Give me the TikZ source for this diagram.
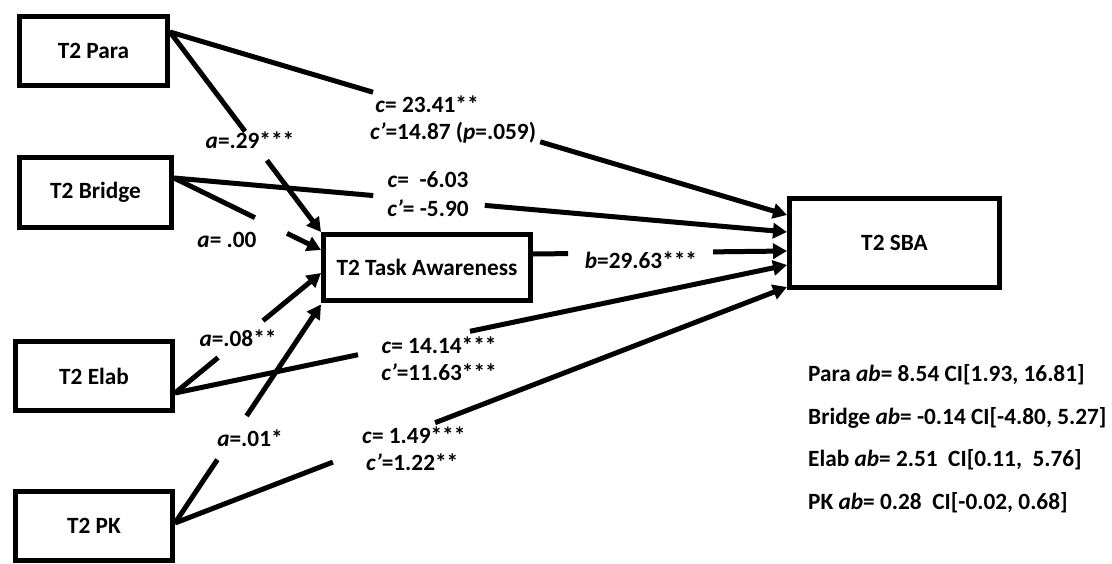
\documentclass[tikz,border=0pt]{standalone}
\usepackage{fontspec}
\setmainfont{Carlito}
\usetikzlibrary{calc,arrows.meta}
\begin{document}
\begin{tikzpicture}[x=1pt,y=-1pt,
  every node/.style={font=\fontsize{23.3}{28}\selectfont\bfseries,inner sep=0pt},
  box/.style={draw,line width=5pt},
  link/.style={line width=5pt,-{Triangle[length=14pt,width=15pt]}}]
\useasboundingbox (0,0) rectangle (1112,563);

% variables and outcome
\node[box,minimum width=148pt,minimum height=69pt] (para)   at (93.5,51)    {T2 Para};
\node[box,minimum width=152pt,minimum height=70pt] (bridge) at (95.5,192.5) {T2 Bridge};
\node[box,minimum width=157pt,minimum height=69pt] (elab)   at (94,376)     {T2 Elab};
\node[box,minimum width=157pt,minimum height=69pt] (pk)     at (94,526)     {T2 PK};
\node[box,minimum width=207pt,minimum height=66pt] (task)   at (427,267.5)  {T2 Task Awareness};
\node[box,minimum width=210pt,minimum height=89pt] (sba)    at (894.5,243)  {T2 SBA};

% connector end points on the box borders
\coordinate (p0) at ([yshift=19pt]para.east);
\coordinate (b0) at ([yshift=14.5pt]bridge.east);
\coordinate (e0) at ([yshift=-17pt]elab.east);
\coordinate (k0) at ([yshift=3pt]pk.east);
\coordinate (t0) at ([yshift=13.5pt]task.east);
\coordinate (t1) at (task.north west);
\coordinate (t2) at ([yshift=17.5pt]task.west);
\coordinate (t3) at ([yshift=-5.5pt]task.west);
\coordinate (t4) at ([yshift=-37pt]task.west);
\coordinate (s1) at ([yshift=28pt]sba.west);
\coordinate (s2) at ([yshift=11pt]sba.west);
\coordinate (s3) at ([yshift=-8pt]sba.west);
\coordinate (s4) at ([yshift=-22pt]sba.west);
\coordinate (s5) at ([yshift=-44pt]sba.west);

% paths, each broken where its coefficients are printed
\draw[link] (p0) -- ($(p0)!0.329!(s1)$) ($(p0)!0.600!(s1)$) -- (s1);
\draw[link] (p0) -- ($(p0)!0.497!(t1)$) ($(p0)!0.642!(t1)$) -- (t1);
\draw[link] (b0) -- ($(b0)!0.325!(s2)$) ($(b0)!0.507!(s2)$) -- (s2);
\draw[link] (b0) -- ($(b0)!0.551!(t2)$) ($(b0)!0.769!(t2)$) -- (t2);
\draw[link] (t0) -- ($(t0)!0.138!(s3)$) ($(t0)!0.709!(s3)$) -- (s3);
\draw[link] (e0) -- ($(e0)!0.295!(t3)$) ($(e0)!0.603!(t3)$) -- (t3);
\draw[link] (e0) -- ($(e0)!0.299!(s4)$) ($(e0)!0.482!(s4)$) -- (s4);
\draw[link] (k0) -- ($(k0)!0.29!(t4)$) ($(k0)!0.49!(t4)$) -- (t4);
\draw[link] (k0) -- ($(k0)!0.258!(s5)$) ($(k0)!0.425!(s5)$) -- (s5);

% path coefficients
\node (c1)  at (427,104) {\textit{c}= 23.41**};
\node (c1p) at (453,133) {\textit{c’}=14.87 (\textit{p}=.059)};
\node (a1)  at (250,140) {\textit{a}=.29***};
\node (c2)  at (428,180) {\textit{c}=~ -6.03};
\node (c2p) at (428,208) {\textit{c’}= -5.90};
\node (a2)  at (227,240) {\textit{a}= .00};
\node (bb)  at (641,260) {\textit{b}=29.63***};
\node (a3)  at (238,338) {\textit{a}=.08**};
\node (c3)  at (439,345) {\textit{c}= 14.14***};
\node (c3p) at (439,372) {\textit{c’}=11.63***};
\node (a4)  at (250,438) {\textit{a}=.01*};
\node[anchor=west] (c4)  at (362,435) {\textit{c}= 1.49***};
\node[anchor=west] (c4p) at (366,462) {\textit{c’}=1.22**};

% indirect effects
\node[anchor=west] (ie1) at (808,375) {Para \textit{ab}= 8.54 CI[1.93, 16.81]};
\node[anchor=west] (ie2) at (808,418) {Bridge \textit{ab}= -0.14 CI[-4.80, 5.27]};
\node[anchor=west] (ie3) at (808,460) {Elab \textit{ab}= 2.51~ CI[0.11,~ 5.76]};
\node[anchor=west] (ie4) at (808,503) {PK \textit{ab}= 0.28~ CI[-0.02, 0.68]};
\end{tikzpicture}
\end{document}
